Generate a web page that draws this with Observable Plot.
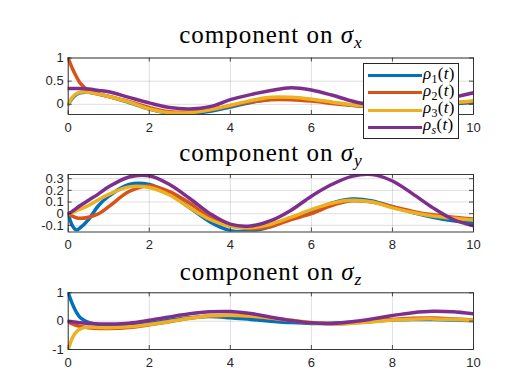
<!DOCTYPE html>
<html>
<head>
<meta charset="utf-8">
<script src="https://cdn.jsdelivr.net/npm/d3@7"></script>
<script src="https://cdn.jsdelivr.net/npm/@observablehq/plot@0.6"></script>
<style>
  html, body { margin: 0; padding: 0; background: #fff; }
  #fig { position: relative; width: 523px; height: 392px; background: #fff; overflow: hidden; }
  #fig svg { position: absolute; left: 0; background: transparent; overflow: visible; }
  .ttl { position: absolute; left: 0; width: 541px; text-align: center; font-family: "Liberation Serif", serif; font-size: 25px; letter-spacing: 1px; color: #000; line-height: 1; white-space: nowrap; }
  .ttl sub { font-size: 0.7em; vertical-align: -0.3em; line-height: 0; letter-spacing: 0; }
  #legend { position: absolute; left: 363px; top: 62.5px; width: 96px; height: 76px; background: #fff; border: 0.8px solid #262626; box-sizing: border-box; }
  .lrow { position: absolute; left: 0; width: 100%; height: 0; }
  .lline { position: absolute; left: 4px; width: 54px; height: 3.2px; top: -1.6px; }
  .ltxt { position: absolute; left: 59px; top: -11px; font-family: "Liberation Serif", serif; font-size: 17px; letter-spacing: 0.3px; color: #000; line-height: 1; white-space: nowrap; }
  .ltxt sub { font-size: 0.7em; vertical-align: -0.3em; line-height: 0; }
</style>
</head>
<body>
<div id="fig"></div>
<script>
// ---- data ----
const tGrid = [0, 0.1, 0.2, 0.3, 0.5, 0.75, 1, 1.5, 2, 2.5, 3, 3.5, 4, 4.5, 5, 5.5, 6, 6.5, 7, 7.5, 8, 8.5, 9, 9.5, 10];

const rho1_x = [0, 0.13, 0.21, 0.25, 0.26, 0.22, 0.17, 0.04, -0.1, -0.19, -0.2, -0.15, -0.06, 0.04, 0.11, 0.13, 0.1, 0.04, -0.02, -0.06, -0.08, -0.06, -0.02, 0.01, 0.04];
const rho2_x = [1, 0.78, 0.6, 0.45, 0.3, 0.22, 0.17, 0.06, -0.07, -0.16, -0.17, -0.12, -0.03, 0.05, 0.1, 0.1, 0.07, 0.02, -0.02, -0.05, -0.06, -0.04, -0.01, 0.03, 0.06];
const rho3_x = [0, 0.15, 0.23, 0.26, 0.26, 0.22, 0.17, 0.05, -0.1, -0.18, -0.18, -0.12, -0.02, 0.08, 0.15, 0.15, 0.11, 0.05, -0.01, -0.05, -0.07, -0.05, -0.01, 0.03, 0.08];
const rhoS_x = [0.34, 0.34, 0.34, 0.34, 0.33, 0.3, 0.27, 0.15, 0.03, -0.07, -0.1, -0.05, 0.1, 0.21, 0.3, 0.36, 0.31, 0.2, 0.07, -0.02, -0.05, -0.03, 0.05, 0.15, 0.25];

const rho1_y = [0, -0.1, -0.14, -0.12, -0.05, 0.07, 0.15, 0.25, 0.25, 0.17, 0.05, -0.07, -0.145, -0.15, -0.11, -0.04, 0.02, 0.09, 0.125, 0.11, 0.06, 0.01, -0.03, -0.06, -0.08];
const rho2_y = [0, -0.02, -0.035, -0.04, -0.03, 0.0, 0.06, 0.19, 0.24, 0.19, 0.09, -0.03, -0.1, -0.13, -0.11, -0.05, 0.0, 0.07, 0.11, 0.1, 0.06, 0.02, -0.01, -0.03, -0.045];
const rho3_y = [0, 0.01, 0.025, 0.04, 0.07, 0.12, 0.165, 0.23, 0.225, 0.16, 0.05, -0.05, -0.11, -0.12, -0.09, -0.03, 0.035, 0.09, 0.115, 0.1, 0.05, 0.01, -0.02, -0.04, -0.055];
const rhoS_y = [0, 0.02, 0.045, 0.07, 0.115, 0.17, 0.23, 0.315, 0.325, 0.25, 0.13, 0.0, -0.09, -0.105, -0.06, 0.03, 0.15, 0.25, 0.32, 0.335, 0.28, 0.17, 0.05, -0.05, -0.105];

const rho1_z = [1.0, 0.62, 0.32, 0.12, -0.04, -0.12, -0.16, -0.15, -0.08, 0.03, 0.12, 0.16, 0.12, 0.06, 0.0, -0.05, -0.08, -0.07, -0.04, 0.0, 0.04, 0.06, 0.06, 0.04, 0.01];
const rho2_z = [-0.02, -0.1, -0.15, -0.19, -0.23, -0.26, -0.26, -0.22, -0.13, -0.02, 0.1, 0.18, 0.2, 0.17, 0.1, 0.02, -0.06, -0.09, -0.07, -0.01, 0.06, 0.1, 0.11, 0.08, 0.04];
const rho3_z = [-1.0, -0.6, -0.38, -0.27, -0.21, -0.22, -0.23, -0.2, -0.12, -0.01, 0.1, 0.19, 0.21, 0.18, 0.11, 0.03, -0.05, -0.09, -0.07, -0.02, 0.04, 0.07, 0.08, 0.06, 0.03];
const rhoS_z = [0.0, -0.02, -0.04, -0.06, -0.08, -0.1, -0.1, -0.07, 0.03, 0.15, 0.26, 0.33, 0.34, 0.27, 0.14, 0.02, -0.06, -0.08, -0.02, 0.08, 0.2, 0.3, 0.35, 0.33, 0.26];

const seriesNames = ["ρ1(t)", "ρ2(t)", "ρ3(t)", "ρs(t)"];
const seriesColors = ["#0072BD", "#D95319", "#EDB120", "#7E2F8E"];
const xTicks = [0, 2, 4, 6, 8, 10];
const yTicks_x = [0, 0.5, 1];
const yTicks_y = [-0.1, 0, 0.1, 0.2, 0.3];
const yTicks_z = [-1, 0, 1];
const titleSubs = ["x", "y", "z"];

// ---- drawing ----
const W = 523, ML = 67.7, MR = 50;
const areaW = W - ML - MR;
const ink = "#262626";

function panel(seriesList, yDomain, yTicks, top, height, marginTop, areaH) {
  const marks = [
    Plot.gridX(xTicks, {stroke: ink, strokeOpacity: 0.15, strokeWidth: 1}),
    Plot.gridY(yTicks, {stroke: ink, strokeOpacity: 0.15, strokeWidth: 1})
  ];
  seriesList.forEach((vals, k) => {
    const data = tGrid.map((tt, i) => ({t: tt, v: vals[i]}));
    marks.push(Plot.lineY(data, {x: "t", y: "v", stroke: seriesColors[k], strokeWidth: 3.5, curve: "catmull-rom", clip: true}));
  });
  marks.push(
    Plot.ruleX(xTicks, {stroke: ink, strokeWidth: 0.8, insetTop: areaH - 4}),
    Plot.ruleX(xTicks, {stroke: ink, strokeWidth: 0.8, insetBottom: areaH - 4}),
    Plot.ruleY(yTicks, {stroke: ink, strokeWidth: 0.8, insetRight: areaW - 4}),
    Plot.ruleY(yTicks, {stroke: ink, strokeWidth: 0.8, insetLeft: areaW - 4}),
    Plot.frame({stroke: ink, strokeWidth: 0.9}),
    Plot.axisX(xTicks, {tickSize: 0, tickPadding: 8, tickFormat: d => String(d), label: null, fill: ink}),
    Plot.axisY(yTicks, {tickSize: 0, tickPadding: 4.5, tickFormat: d => String(d), label: null, fill: ink})
  );
  const svg = Plot.plot({
    width: W, height,
    marginLeft: ML, marginRight: MR, marginTop, marginBottom: height - marginTop - areaH,
    x: {domain: [0, 10], label: null},
    y: {domain: yDomain, label: null},
    style: {fontFamily: "'Liberation Sans', Arial, sans-serif", fontSize: "13px", color: ink, background: "transparent", overflow: "visible"},
    marks
  });
  svg.style.top = top + "px";
  return svg;
}

const fig = document.getElementById("fig");
fig.appendChild(panel([rho1_x, rho2_x, rho3_x, rhoS_x], [-0.22, 1], yTicks_x, 0, 130, 57.5, 56.5));
fig.appendChild(panel([rho1_y, rho2_y, rho3_y, rhoS_y], [-0.157, 0.336], yTicks_y, 130, 130, 44, 57.5));
fig.appendChild(panel([rho1_z, rho2_z, rho3_z, rhoS_z], [-1, 1], yTicks_z, 260, 132, 32.3, 56.7));

// titles
const titleTops = [22, 140, 259];
titleSubs.forEach((s, i) => {
  const d = document.createElement("div");
  d.className = "ttl";
  d.style.top = titleTops[i] + "px";
  d.innerHTML = `component on <i>σ</i><sub><i>${s}</i></sub>`;
  fig.appendChild(d);
});

// legend
const leg = document.createElement("div");
leg.id = "legend";
const rowY = [12, 29.3, 46.6, 63.9];
seriesNames.forEach((name, k) => {
  const r = document.createElement("div");
  r.className = "lrow";
  r.style.top = rowY[k] + "px";
  const ln = document.createElement("div");
  ln.className = "lline";
  ln.style.background = seriesColors[k];
  const tx = document.createElement("div");
  tx.className = "ltxt";
  const sub = name.slice(1, 2);
  tx.innerHTML = `<i>ρ</i><sub>${sub === "s" ? "<i>s</i>" : sub}</sub>(<i>t</i>)`;
  r.appendChild(ln);
  r.appendChild(tx);
  leg.appendChild(r);
});
fig.appendChild(leg);
</script>
</body>
</html>
